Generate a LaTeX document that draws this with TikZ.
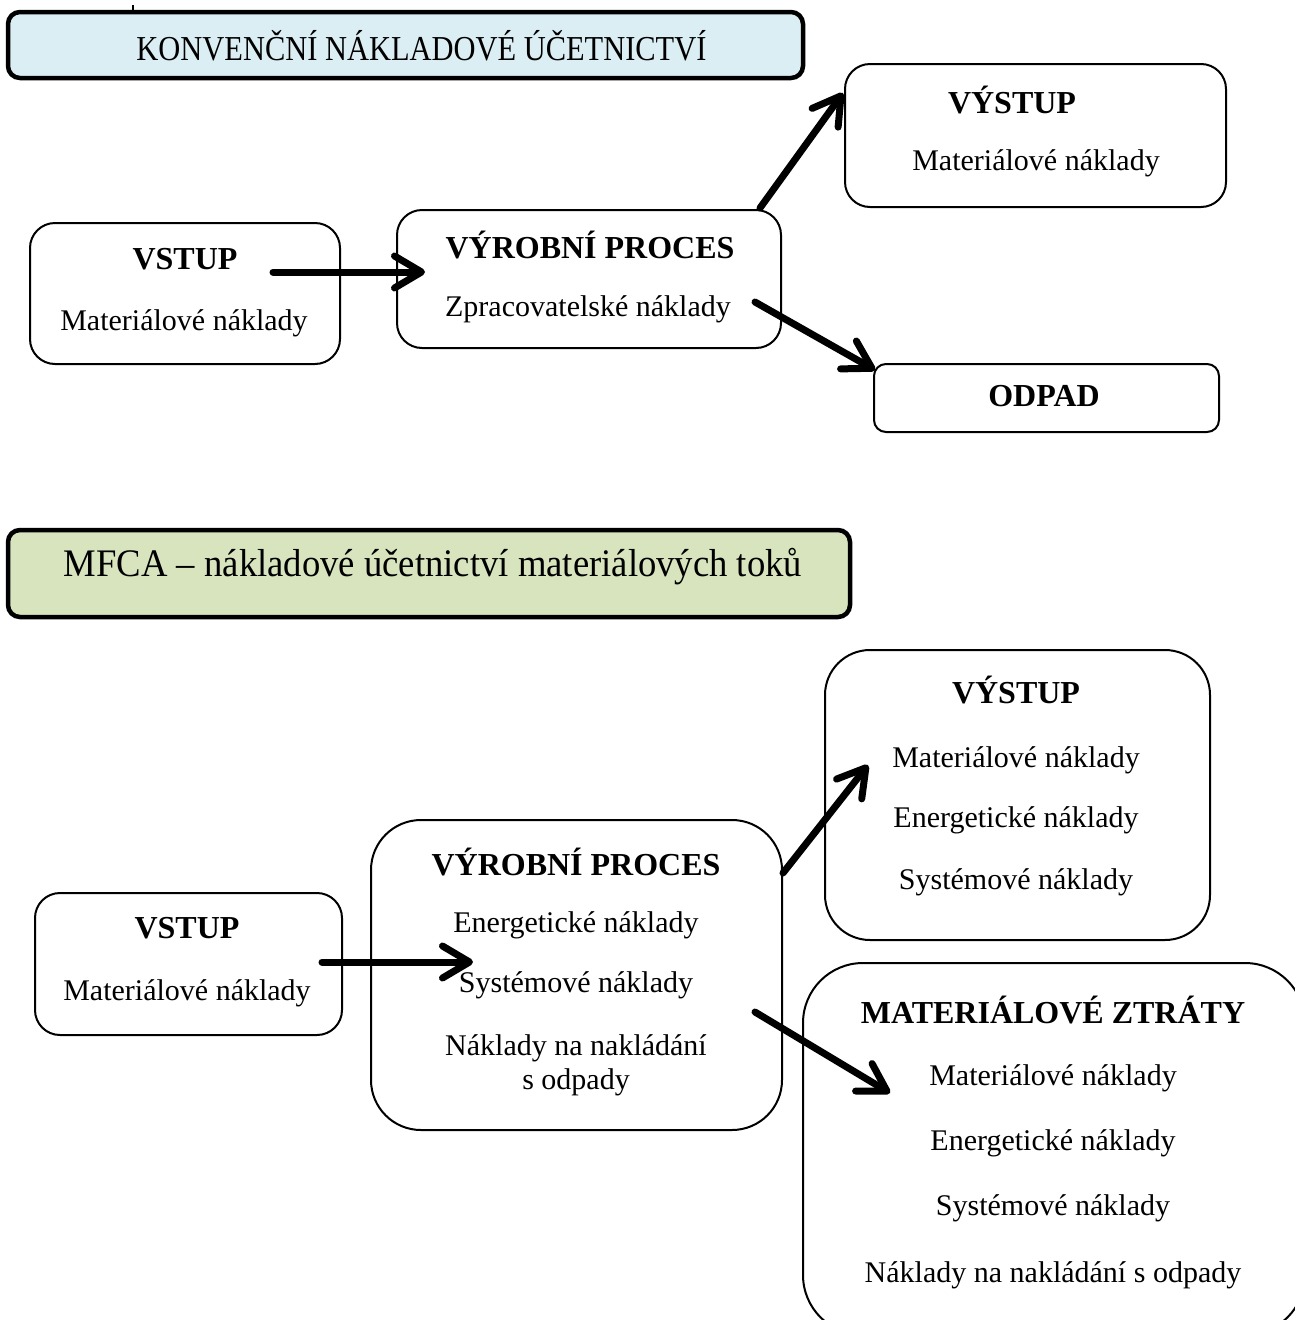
\documentclass[tikz,border=0pt]{standalone}
\usepackage{fontspec}
\setmainfont{Liberation Serif}
\usetikzlibrary{arrows.meta}

\definecolor{headblue}{HTML}{DBEEF4}
\definecolor{headgreen}{HTML}{D7E4BD}

\begin{document}
\begin{tikzpicture}[x=1pt,y=-1pt,
  box/.style={draw=black, line width=2pt, rounded corners=#1, inner sep=0pt},
  box/.default=25pt,
  header/.style={draw=black, line width=4.5pt, rounded corners=12pt, inner sep=0pt},
  ttl/.style={font=\fontsize{32}{36}\selectfont\bfseries, inner sep=0pt},
  txt/.style={font=\fontsize{30}{34}\selectfont, inner sep=0pt},
  flow/.style={line width=7pt, line cap=round,
    -{Straight Barb[length=27pt, width=32pt, line cap=round, line join=round]}}
]
\clip (0,0) rectangle (1295,1320);
\useasboundingbox (0,0) rectangle (1295,1320);

% small mark above the first header
\draw[line width=1.5pt] (133,5) -- (133,13);

% ---------- conventional cost accounting ----------
\node[header, fill=headblue, minimum width=795pt, minimum height=66pt] (h1) at (405.5,45) {};
\node[font=\fontsize{35}{40}\selectfont, inner sep=0pt, xscale=0.87] (h1t) at (421.5,46) {KONVENČNÍ NÁKLADOVÉ ÚČETNICTVÍ};

\node[box, minimum width=310pt, minimum height=141pt] (in1) at (185,293.5) {};
\node[ttl] (in1a) at (185,259) {VSTUP};
\node[txt] (in1b) at (184,323) {Materiálové náklady};

\node[box, minimum width=384pt, minimum height=138pt] (pr1) at (589,279) {};
\node[ttl] (pr1a) at (590,245) {VÝROBNÍ PROCES};
\node[txt] (pr1b) at (588,309) {Zpracovatelské náklady};

\node[box, minimum width=381pt, minimum height=143pt] (out1) at (1035.5,135.5) {};
\node[ttl] (out1a) at (1012,100) {VÝSTUP};
\node[txt] (out1b) at (1036,163) {Materiálové náklady};

\node[box=12pt, minimum width=345pt, minimum height=68pt] (waste1) at (1046.5,398) {};
\node[ttl] (waste1a) at (1044,396) {ODPAD};

\coordinate (a1s) at (273,272);  \coordinate (a1e) at (425,272);
\coordinate (a2s) at (760,208);  \coordinate (a2e) at (843,93);
\coordinate (a3s) at (755,302);  \coordinate (a3e) at (875,370);
\draw[flow] (a1s) -- (a1e);
\draw[flow] (a2s) -- (a2e);
\draw[flow] (a3s) -- (a3e);

% ---------- MFCA ----------
\node[header, fill=headgreen, minimum width=842pt, minimum height=87pt] (h2) at (429,573.5) {};
\node[font=\fontsize{39}{44}\selectfont, inner sep=0pt, xscale=0.94] (h2t) at (433,567) {MFCA – nákladové účetnictví materiálových toků};

\node[box, minimum width=307pt, minimum height=142pt] (in2) at (188.5,964) {};
\node[ttl] (in2a) at (187,928) {VSTUP};
\node[txt] (in2b) at (187,993) {Materiálové náklady};

\node[box=50pt, minimum width=411pt, minimum height=310pt] (pr2) at (576.5,975) {};
\node[ttl] (pr2a) at (576,862) {VÝROBNÍ PROCES};
\node[txt] (pr2b) at (576,925) {Energetické náklady};
\node[txt] (pr2c) at (576,985) {Systémové náklady};
\node[txt] (pr2d) at (576,1048) {Náklady na nakládání};
\node[txt] (pr2e) at (576,1082) {s odpady};

\node[box=45pt, minimum width=385pt, minimum height=290pt] (out2) at (1017.5,795) {};
\node[ttl] (out2a) at (1016,690) {VÝSTUP};
\node[txt] (out2b) at (1016,760) {Materiálové náklady};
\node[txt] (out2c) at (1016,820) {Energetické náklady};
\node[txt] (out2d) at (1016,882) {Systémové náklady};

\node[box=60pt, minimum width=502pt, minimum height=372pt] (loss) at (1054,1149) {};
\node[ttl] (lossa) at (1053,1010) {MATERIÁLOVÉ ZTRÁTY};
\node[txt] (lossb) at (1053,1078) {Materiálové náklady};
\node[txt] (lossc) at (1053,1143) {Energetické náklady};
\node[txt] (lossd) at (1053,1208) {Systémové náklady};
\node[txt] (losse) at (1053,1275) {Náklady na nakládání s odpady};

\coordinate (b1s) at (322,962);  \coordinate (b1e) at (473,962);
\coordinate (b2s) at (783,873);  \coordinate (b2e) at (868,765);
\coordinate (b3s) at (755,1012); \coordinate (b3e) at (890,1093);
\draw[flow] (b1s) -- (b1e);
\draw[flow] (b2s) -- (b2e);
\draw[flow] (b3s) -- (b3e);
\end{tikzpicture}
\end{document}
